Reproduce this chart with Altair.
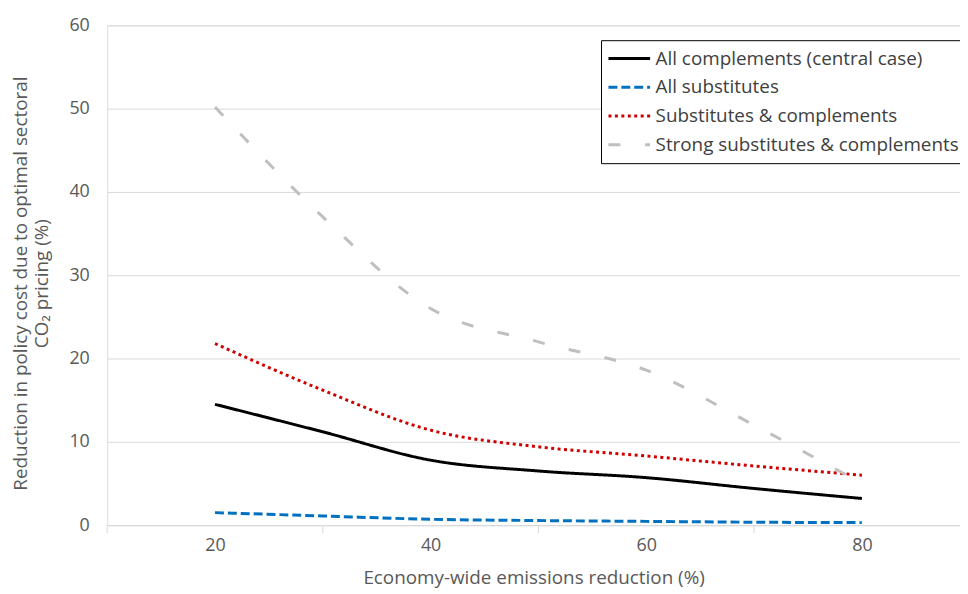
import altair as alt
import pandas as pd

x_vals = [20, 30, 40, 50, 60, 70, 80]
series_names = [
    "All complements (central case)",
    "All substitutes",
    "Substitutes & complements",
    "Strong substitutes & complements",
]
all_complements = [14.5, 11.2, 7.8, 6.5, 5.7, 4.4, 3.2]
all_substitutes = [1.5, 1.1, 0.7, 0.55, 0.45, 0.35, 0.3]
subs_and_comps = [21.8, 16.2, 11.4, 9.4, 8.3, 7.1, 6.0]
strong_subs_comps = [50.2, 37.0, 26.0, 22.0, 18.6, 12.0, 5.0]
x_labels = [20, 40, 60, 80]
x_tick_positions = [10, 30, 50, 70]

colors = ["#000000", "#0070c0", "#d00000", "#bfbfbf"]
dashes = [[1, 0], [9, 4], [3, 3.5], [12, 25]]

rows = []
for name, vals in zip(series_names, [all_complements, all_substitutes, subs_and_comps, strong_subs_comps]):
    for x, v in zip(x_vals, vals):
        rows.append({"x": x, "y": v, "series": name})
df = pd.DataFrame(rows)

ticks_df = pd.DataFrame({"x": x_tick_positions})

FONT = "Open Sans"
FS = 19
W, H = 860, 504
xscale = alt.Scale(domain=[10, 89.1], nice=False, zero=False)

lines = alt.Chart(df).mark_line(strokeWidth=3, interpolate="monotone", clip=True).encode(
    x=alt.X("x:Q", scale=xscale,
            axis=alt.Axis(values=x_labels, title="Economy-wide emissions reduction (%)",
                          ticks=False, grid=False, domain=True, domainColor="#d9d9d9",
                          labelFontSize=18, labelColor="#595959", labelPadding=12,
                          titleFontSize=FS, titleColor="#595959", titleFontWeight="normal",
                          titlePadding=14, labelFont=FONT, titleFont=FONT)),
    y=alt.Y("y:Q", scale=alt.Scale(domain=[0, 60], nice=False),
            axis=alt.Axis(values=[0, 10, 20, 30, 40, 50, 60],
                          title=["Reduction in policy cost due to optimal sectoral", "CO\u2082 pricing (%)"],
                          ticks=False, domain=False, grid=True, gridColor="#d9d9d9",
                          labelFontSize=18, labelColor="#595959", labelPadding=18,
                          titleFontSize=FS, titleColor="#595959", titleFontWeight="normal",
                          titleX=-77, titleY=260, titleLineHeight=21, labelFont=FONT, titleFont=FONT)),
    color=alt.Color("series:N", scale=alt.Scale(domain=series_names, range=colors),
                    legend=alt.Legend(title=None, orient="none", legendX=498, legendY=15,
                                      fillColor="white", strokeColor="#000000", padding=6,
                                      symbolType="stroke", symbolSize=1764, symbolStrokeWidth=3,
                                      labelFontSize=FS, labelColor="#404040", labelFont=FONT,
                                      labelOffset=4, rowPadding=4, clipHeight=25, labelLimit=400)),
    strokeDash=alt.StrokeDash("series:N", scale=alt.Scale(domain=series_names, range=dashes),
                              legend=None),
    order=alt.Order("x:Q"),
)

tick_marks = alt.Chart(ticks_df).mark_rule(color="#d9d9d9", strokeWidth=1).encode(
    x=alt.X("x:Q", scale=xscale),
    y=alt.value(H),
    y2=alt.value(H + 8),
)

chart = alt.layer(tick_marks, lines).properties(
    width=W, height=H,
    autosize=alt.AutoSizeParams(type="none"),
    padding={"left": 100, "top": 15, "right": 0, "bottom": 70},
).configure_view(stroke=None).configure(font=FONT)

chart.save("out.html", embed_options={"renderer": "svg", "actions": False})
